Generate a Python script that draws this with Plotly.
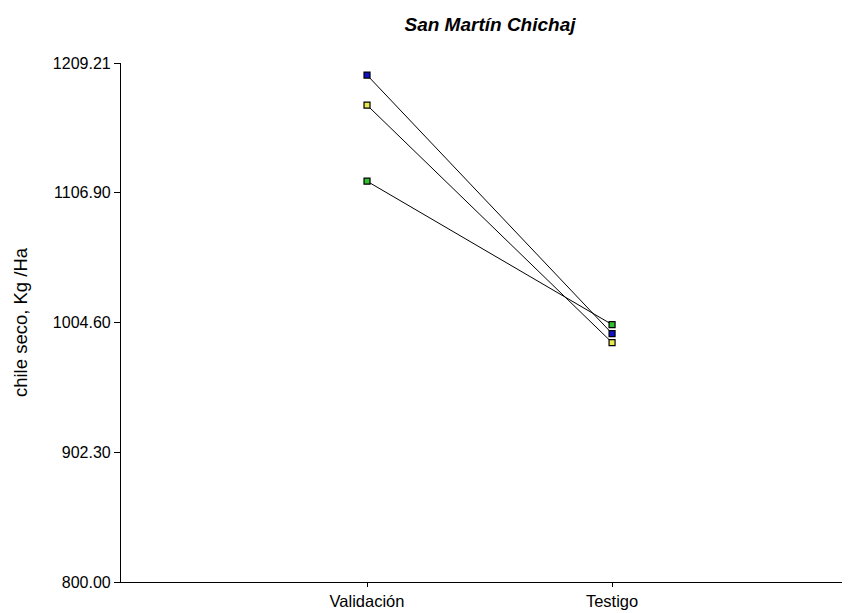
import plotly.graph_objects as go

categories = ["Validación", "Testigo"]
series_names = ["Serie 1", "Serie 2", "Serie 3"]
serie_azul = [1199.7, 995.9]
serie_amarilla = [1176.0, 988.8]
serie_verde = [1116.0, 1003.0]
series_values = [serie_azul, serie_amarilla, serie_verde]
marker_colors = ["#1010C8", "#E8E850", "#30C030"]
y_tickvals = [800.00, 902.30, 1004.60, 1106.90, 1209.21]
y_ticktext = ["800.00", "902.30", "1004.60", "1106.90", "1209.21"]

x_pos = list(range(len(categories)))

fig = go.Figure()
for name, vals, col in zip(series_names, series_values, marker_colors):
    fig.add_trace(go.Scatter(
        x=x_pos, y=vals, mode="lines+markers", name=name,
        line=dict(color="black", width=1),
        marker=dict(symbol="square", size=6, color=col,
                    line=dict(color="black", width=1.2)),
        showlegend=False,
    ))

fig.update_layout(
    width=850, height=613,
    margin=dict(l=113, r=8, t=55, b=39),
    paper_bgcolor="white", plot_bgcolor="white",
    font=dict(family="Liberation Sans, Arial, sans-serif", size=16, color="black"),
    title=dict(text="<b><i>San Martín Chichaj</i></b>", x=482/850, xanchor="center",
               y=1 - 16/613, yanchor="middle", font=dict(size=19)),
    xaxis=dict(range=[-1.004, 1.971], tickvals=x_pos, ticktext=categories,
               showline=True, linecolor="black", linewidth=1.2,
               ticks="outside", ticklen=4, tickcolor="black",
               tickfont=dict(size=16.5),
               showgrid=False, zeroline=False),
    yaxis=dict(range=[800, 1209.21], tickvals=y_tickvals, ticktext=y_ticktext,
               showline=True, linecolor="black", linewidth=1.2,
               ticks="outside", ticklen=6, tickcolor="black",
               tickfont=dict(size=16),
               showgrid=False, zeroline=False,
               title=dict(text="chile seco, Kg /Ha", standoff=20, font=dict(size=18.5))),
)

fig.write_html("out.html")
